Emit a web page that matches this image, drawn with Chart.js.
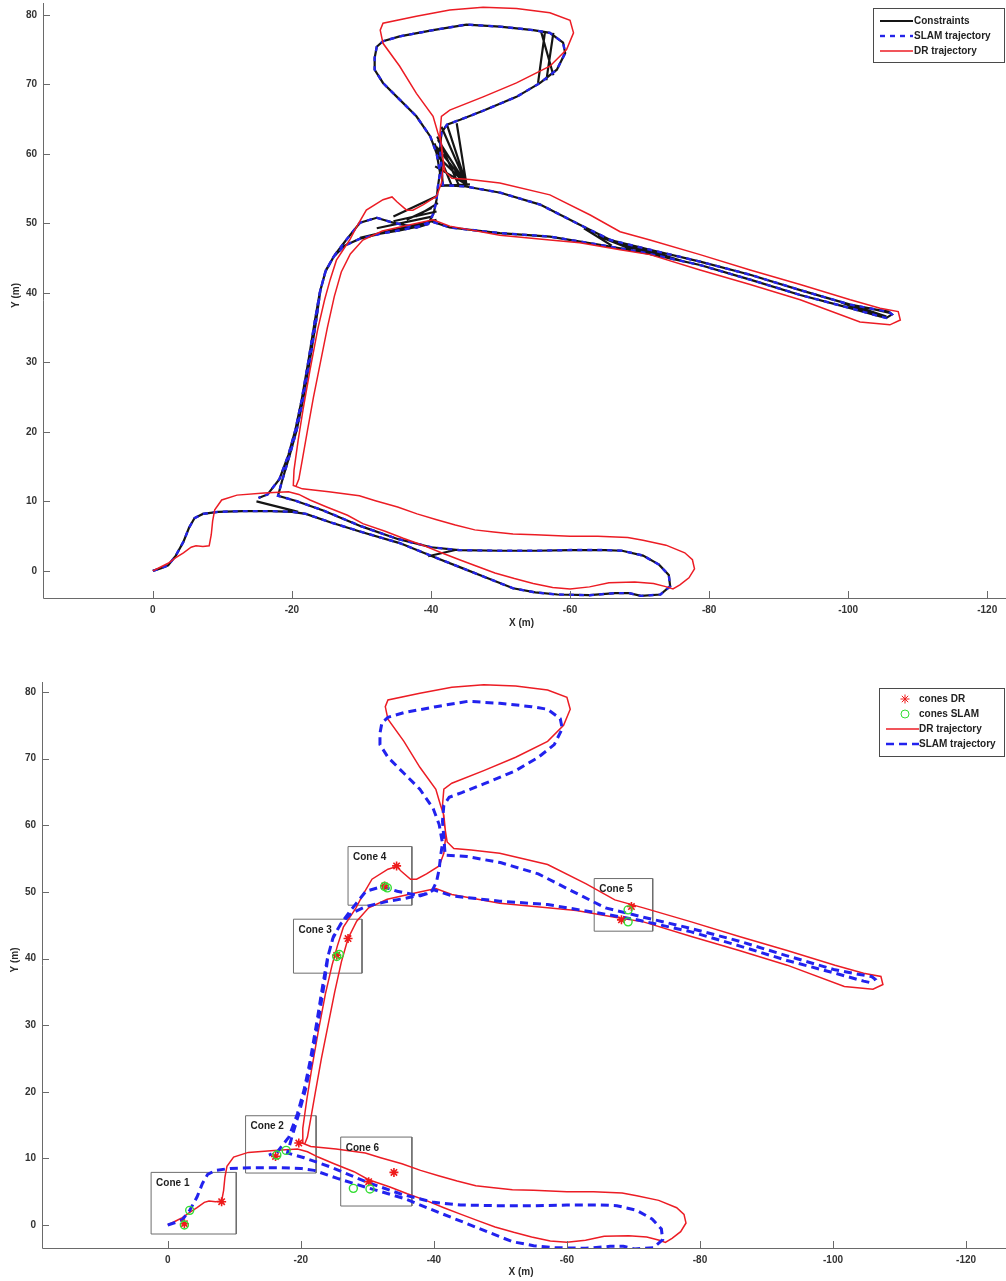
<!DOCTYPE html>
<html>
<head>
<meta charset="utf-8">
<script src="https://cdn.jsdelivr.net/npm/chart.js@4.4.1/dist/chart.umd.min.js"></script>
<style>
  body { margin: 0; background: #fff; }
  #page { position: relative; width: 1006px; height: 1281px; }
  .panel { position: absolute; left: 0; width: 1006px; }
</style>
</head>
<body>
<div id="page">
  <div class="panel" style="top:0;height:640px"><canvas id="graphLinks"></canvas></div>
  <div class="panel" style="top:640px;height:641px"><canvas id="graphCones"></canvas></div>
</div>
<script>
// SLAM estimate of the vehicle path (m)
var slamX = [0, -1.2, -2.2, -3.3, -4.4, -5.2, -6, -7.2, -9.4, -13,
  -17, -20, -22, -25.5, -30, -35.5, -40.7, -44.5, -48, -51.8,
  -55, -58.2, -62.8, -66.5, -68.5, -70.2, -73, -74.4, -74.2, -72.8,
  -70.5, -67.5, -65, -60, -55, -50, -44, -40, -35.2, -30,
  -24.5, -20.5, -18, -18.6, -19.7, -20.7, -21.6, -22.6, -23.5, -24.1,
  -24.9, -26.2, -27.8, -29.8, -32.2, -34.5, -37.9, -39.6, -40.4, -40.8,
  -41, -41.3, -40.8, -39.9, -37.9, -35.5, -33.1, -31.9, -31.9, -32.2,
  -33.1, -35.5, -40.3, -45.1, -49.9, -54.7, -57.1, -59, -59.3, -58.1,
  -55.7, -52.3, -47.5, -44.2, -42.3, -41.5, -41.3, -41.5, -41.7, -45,
  -50, -55.7, -61.4, -65.8, -71.5, -78.7, -85.9, -93.1, -100.3, -104,
  -105.8, -106.3, -105.5, -104.6, -100.3, -93.1, -85.9, -78.7, -70.1, -64.3,
  -57.1, -49.9, -42.7, -40, -38.4, -35.5, -32.7, -29.8, -27.6, -26,
  -24.8, -24, -23.3, -22.4, -21.4, -20.5, -19.5, -18.2, -16.5, -15.2];
var slamY = [0, 0.4, 0.8, 2.2, 4.2, 6.2, 7.6, 8.2, 8.5, 8.6,
  8.6, 8.5, 8.2, 7, 5.6, 4, 1.9, 0.4, -1, -2.5,
  -3.1, -3.4, -3.5, -3.2, -3.2, -3.6, -3.4, -2.2, -0.6, 0.9,
  2.2, 2.9, 3, 3, 2.9, 2.9, 3, 3.4, 4.6, 6.4,
  8.7, 10.1, 10.8, 13, 16.7, 20.3, 24.6, 30.4, 36.1, 40.4,
  43.3, 45.5, 47.6, 50.1, 50.8, 50.1, 49.4, 49.9, 51.5, 53.4,
  55.3, 57.3, 60.1, 62.5, 65.4, 67.8, 70.2, 72.1, 73.8, 75.4,
  76.2, 76.9, 77.8, 78.6, 78.3, 77.8, 77.4, 76, 74.5, 72.1,
  70.2, 68.2, 66.2, 64.9, 64.2, 63, 60.6, 58.2, 55.5, 55.3,
  54.4, 52.7, 49.8, 47.6, 46.2, 44.5, 42.6, 40.4, 38.3, 37.6,
  37.3, 36.9, 36.4, 36.6, 37.8, 39.7, 41.9, 44, 45.9, 46.9,
  48.1, 48.6, 49.4, 50.3, 49.6, 49, 48.5, 47.8, 46.8, 45.2,
  43, 40, 36, 30.4, 24.6, 20.3, 16.7, 13.2, 11, 10.5];

// dead-reckoning path (m)
var drX = [0, -1.2, -2.2, -3.3, -4.4, -5.5, -6.2, -7.2, -8.1, -8.4,
  -8.6, -8.9, -9.9, -12.1, -16, -19.5, -21, -22.6, -25, -28,
  -30.2, -33.4, -36, -38.8, -41.5, -44.1, -46.5, -49.2, -52, -54.7,
  -57.5, -60, -62.8, -65.6, -69.3, -72, -73.9, -74.8, -75.8, -77.1,
  -77.9, -77.6, -76.5, -73.8, -70.5, -68.3, -64, -60, -55, -51.8,
  -49, -46.3, -43.5, -40.7, -38, -35.2, -32, -29.7, -25.3, -21.5,
  -20.2, -20.3, -20.9, -21.6, -22.6, -23.7, -24.7, -25.5, -26.4, -28.3,
  -29.3, -30.7, -33.1, -34.4, -35.1, -36.5, -37.4, -38.9, -40.8, -41.5,
  -41.8, -41.5, -41, -40.3, -37.9, -35.5, -33.1, -32.7, -33.1, -37.9,
  -42.7, -47.5, -52.3, -57.1, -60, -60.5, -59.5, -57.1, -52.3, -47.5,
  -42.7, -41.5, -41.3, -41.6, -42, -43, -45.6, -49.9, -57.1, -62.9,
  -67.2, -71.5, -78.7, -85.9, -93.1, -100.3, -104.6, -107.2, -107.5, -106,
  -101.7, -93.1, -85.9, -78.7, -71.5, -67.2, -61.4, -57.1, -49.9, -42.7,
  -40.3, -37, -33, -30.2, -28.4, -27.1, -26.1, -25.1, -24.1, -23.1,
  -22.2, -21.5, -21, -20.6];
var drY = [0, 0.6, 1.1, 1.9, 2.6, 3.4, 3.6, 3.5, 3.6, 5.2,
  7.2, 8.8, 10.2, 10.9, 11.2, 11.4, 11, 10.2, 9.2, 8,
  6.8, 5.7, 4.7, 3.7, 2.6, 1.6, 0.7, -0.3, -1.1, -1.8,
  -2.4, -2.6, -2.3, -1.7, -1.6, -1.8, -2.3, -2.6, -2, -1,
  0.3, 1.6, 2.6, 3.7, 4.4, 4.8, 5, 5, 5.2, 5.3,
  5.6, 5.9, 6.6, 7.4, 8.2, 9.2, 10.1, 10.8, 11.4, 11.8,
  12.3, 14.5, 18.8, 23.2, 28.9, 34.7, 39, 41.9, 44.7, 47.6,
  49.5, 51.9, 53.4, 53.8, 53.1, 51.9, 51.9, 52.7, 53.9, 55.8,
  58.5, 61.5, 63, 65.4, 68.7, 72.6, 75.9, 77.8, 78.8, 79.8,
  80.7, 81.1, 80.9, 80.3, 79.2, 77.4, 75, 72.6, 70.2, 68.2,
  66.3, 65.4, 63, 60, 57.5, 56.5, 56.3, 55.8, 54.1, 51.2,
  48.8, 47.6, 45.5, 43.3, 41.2, 39, 37.8, 37.3, 36.1, 35.4,
  35.8, 39, 41.2, 43.3, 45.5, 46.2, 47.2, 47.6, 48.3, 49.6,
  50.5, 49.8, 48.9, 47.6, 45.6, 43, 39.5, 35, 30, 25,
  20, 16, 13.2, 12.2];

// loop-closure links between poses (start / end)
var linkX1 = [-56.4, -57.6, -55.8, -45.1, -45.1, -45.1, -45.1, -45.1, -45.1, -45.1,
  -44, -43, -41.3, -40.8, -40.3, -40.8, -40.1, -41, -34.6, -62,
  -64, -66, -67.5, -70, -65, -99, -101, -103, -39.6, -14.9];
var linkY1 = [77.6, 77.4, 77.7, 55.6, 55.6, 55.6, 55.6, 55.6, 55.6, 55.6,
  55.5, 55.4, 55.4, 50.5, 51, 51.7, 52.2, 52.9, 51, 49.3,
  48.2, 47.4, 47, 46.5, 47.9, 38.6, 38.1, 37.8, 2.1, 10];
var linkX2 = [-55.4, -56.6, -57.6, -41, -40.8, -41, -41.5, -42.3, -43.7, -40.6,
  -40.9, -40.5, -45.6, -29.8, -32.2, -34.6, -36.5, -37.9, -40.8, -66,
  -69, -71, -74, -76, -72, -104.2, -105.5, -106, -43.5, -20.9];
var linkY2 = [70.2, 70.6, 71.3, 62, 61, 59.6, 63.9, 64.2, 64.4, 58.2,
  62.5, 61.5, 55.6, 47.9, 49.3, 50.3, 50.5, 51, 53.9, 46.8,
  46.2, 45.9, 45.2, 44.6, 45.7, 36.7, 36.6, 37.1, 3, 8.5];

// cone sightings, two passes per cone
var coneDrX = [-2.5, -8.1, -16.2, -19.7, -25.4, -27.1, -32.6, -34.4, -69.7, -68.2, -34, -30.2];
var coneDrY = [0.2, 3.5, 10.3, 12.3, 40.5, 43, 50.9, 53.9, 47.8, 45.8, 7.9, 6.5];
var coneSlamX = [-2.5, -3.3, -16.4, -17.8, -25.4, -25.8, -32.6, -33, -69.2, -69.2, -27.9, -30.4];
var coneSlamY = [0, 2.2, 10.5, 11.2, 40.3, 40.6, 50.8, 50.6, 47.3, 45.5, 5.5, 5.4];

// frames around each cone
var coneNames = ['Cone 1', 'Cone 2', 'Cone 3', 'Cone 4', 'Cone 5', 'Cone 6'];
var boxX1 = [2.5, -11.7, -18.9, -27.1, -64.1, -26];
var boxX2 = [-10.3, -22.3, -29.2, -36.7, -72.9, -36.7];
var boxY1 = [7.9, 16.4, 45.9, 56.8, 52, 13.2];
var boxY2 = [-1.35, 7.8, 37.8, 48, 44.1, 2.85];

var xTicks = [0, -20, -40, -60, -80, -100, -120];
var yTicks = [0, 10, 20, 30, 40, 50, 60, 70, 80];

var GAP = {x: NaN, y: NaN};
var FONT = '"Liberation Sans", Arial, sans-serif';

function pts(xs, ys) {
  return xs.map(function (x, i) { return {x: x, y: ys[i]}; });
}

// pose chain followed by the loop-closure links, split by gaps
function linkPoints() {
  var out = pts(slamX, slamY);
  for (var i = 0; i < linkX1.length; i++) {
    out.push(GAP, {x: linkX1[i], y: linkY1[i]}, {x: linkX2[i], y: linkY2[i]});
  }
  return out;
}

function boxPoints() {
  var out = [];
  for (var i = 0; i < boxX1.length; i++) {
    out.push({x: boxX1[i], y: boxY1[i]}, {x: boxX2[i], y: boxY1[i]},
      {x: boxX2[i], y: boxY2[i]}, {x: boxX1[i], y: boxY2[i]},
      {x: boxX1[i], y: boxY1[i]}, GAP);
  }
  return out;
}

// axis lines, inward ticks and axis names
var frame = {
  id: 'frame',
  afterDraw: function (chart, args, o) {
    var ctx = chart.ctx, a = chart.chartArea, sx = chart.scales.x, sy = chart.scales.y;
    ctx.save();
    ctx.strokeStyle = '#6a6a6a';
    ctx.lineWidth = 1;
    ctx.beginPath();
    ctx.moveTo(a.left + 0.5, a.top);
    ctx.lineTo(a.left + 0.5, a.bottom + 0.5);
    ctx.lineTo(a.right, a.bottom + 0.5);
    xTicks.forEach(function (v) {
      var p = Math.round(sx.getPixelForValue(v)) + 0.5;
      ctx.moveTo(p, a.bottom);
      ctx.lineTo(p, a.bottom - 7);
    });
    yTicks.forEach(function (v) {
      var p = Math.round(sy.getPixelForValue(v)) + 0.5;
      ctx.moveTo(a.left, p);
      ctx.lineTo(a.left + 7, p);
    });
    ctx.stroke();
    ctx.fillStyle = '#2b2b2b';
    ctx.font = 'bold 10px ' + FONT;
    ctx.textAlign = 'center';
    ctx.textBaseline = 'middle';
    ctx.fillText('X (m)', (a.left + a.right) / 2 - 3, o.xTitleY);
    ctx.translate(o.yTitleX, (a.top + a.bottom) / 2 - 5);
    ctx.rotate(-Math.PI / 2);
    ctx.fillText('Y (m)', 0, 0);
    ctx.restore();
  }
};

// boxed legend in the upper right corner
var keyBox = {
  id: 'keyBox',
  afterDraw: function (chart, args, o) {
    var ctx = chart.ctx;
    ctx.save();
    ctx.fillStyle = '#fff';
    ctx.fillRect(o.left, o.top, o.width, o.height);
    ctx.strokeStyle = '#4a4a4a';
    ctx.lineWidth = 1;
    ctx.strokeRect(o.left + 0.5, o.top + 0.5, o.width, o.height);
    o.items.forEach(function (idx, i) {
      var ds = chart.data.datasets[idx];
      var y = o.top + o.first + i * o.step;
      if (ds.showLine) {
        ctx.strokeStyle = ds.borderColor;
        ctx.lineWidth = Math.min(ds.borderWidth, 2.6);
        ctx.setLineDash(ds.borderDash || []);
        ctx.beginPath();
        ctx.moveTo(o.left + 7, y);
        ctx.lineTo(o.left + 40, y);
        ctx.stroke();
        ctx.setLineDash([]);
      } else {
        ctx.strokeStyle = ds.pointBorderColor;
        ctx.fillStyle = 'rgba(0,0,0,0)';
        Chart.helpers.drawPoint(ctx, {pointStyle: ds.pointStyle, radius: ds.pointRadius,
          borderWidth: ds.pointBorderWidth, rotation: 0}, o.left + 26, y);
      }
      ctx.fillStyle = '#222';
      ctx.font = 'bold 10px ' + FONT;
      ctx.textAlign = 'left';
      ctx.textBaseline = 'middle';
      ctx.fillText(ds.label, o.left + o.textX, y);
    });
    ctx.restore();
  }
};

// cone names written in the corner of each frame
var coneTags = {
  id: 'coneTags',
  afterDatasetsDraw: function (chart) {
    if (!chart.options.plugins.coneTags.show) return;
    var ctx = chart.ctx, sx = chart.scales.x, sy = chart.scales.y;
    ctx.save();
    ctx.fillStyle = '#1e1e1e';
    ctx.font = 'bold 10px ' + FONT;
    ctx.textAlign = 'left';
    ctx.textBaseline = 'middle';
    coneNames.forEach(function (name, i) {
      ctx.fillText(name, sx.getPixelForValue(boxX1[i]) + 5, sy.getPixelForValue(boxY1[i]) + 11);
    });
    ctx.restore();
  }
};

function axes(xLo, xHi, yLo, yHi, yWidth, xHeight) {
  var tickFont = {family: FONT, size: 10, weight: 'bold'};
  return {
    x: {
      type: 'linear', reverse: true, min: xLo, max: xHi,
      afterBuildTicks: function (s) { s.ticks = xTicks.map(function (v) { return {value: v}; }); },
      afterFit: function (s) { s.height = xHeight; s.paddingLeft = 0; s.paddingRight = 0; },
      grid: {drawOnChartArea: false, drawTicks: false},
      border: {display: false},
      ticks: {padding: 6, color: '#333', font: tickFont, maxRotation: 0, autoSkip: false}
    },
    y: {
      type: 'linear', min: yLo, max: yHi,
      afterBuildTicks: function (s) { s.ticks = yTicks.map(function (v) { return {value: v}; }); },
      afterFit: function (s) { s.width = yWidth; s.paddingTop = 0; s.paddingBottom = 0; },
      grid: {drawOnChartArea: false, drawTicks: false},
      border: {display: false},
      ticks: {padding: 6, color: '#333', font: tickFont, autoSkip: false}
    }
  };
}

function line(label, data, color, width, dash, order) {
  return {label: label, data: data, showLine: true, borderColor: color, borderWidth: width,
    borderDash: dash, pointRadius: 0, fill: false, order: order};
}

new Chart(document.getElementById('graphLinks'), {
  type: 'scatter',
  data: {
    datasets: [
      line('Constraints', linkPoints(), '#151515', 2.2, [], 2),
      line('SLAM trajectory', pts(slamX, slamY), '#2424e8', 2.4, [5, 5], 1),
      line('DR trajectory', pts(drX, drY), '#ec1c24', 1.5, [], 0)
    ]
  },
  options: {
    animation: false, responsive: true, maintainAspectRatio: false, events: [],
    layout: {autoPadding: false, padding: {top: 3, left: 0, right: 0, bottom: 0}},
    scales: axes(-122.7, 15.8, -3.9, 81.7, 43, 42),
    plugins: {
      legend: {display: false}, tooltip: {enabled: false},
      frame: {xTitleY: 623, yTitleX: 16},
      keyBox: {left: 873, top: 8, width: 131, height: 54, first: 13, step: 15, textX: 41, items: [0, 1, 2]},
      coneTags: {show: false}
    }
  },
  plugins: [frame, keyBox, coneTags]
});

new Chart(document.getElementById('graphCones'), {
  type: 'scatter',
  data: {
    datasets: [
      {label: 'cones DR', data: pts(coneDrX, coneDrY), pointStyle: 'star', pointRadius: 4.5,
        pointBorderColor: '#ee1a1a', pointBorderWidth: 1.6, pointBackgroundColor: '#ee1a1a', order: 1},
      {label: 'cones SLAM', data: pts(coneSlamX, coneSlamY), pointStyle: 'circle', pointRadius: 4,
        pointBorderColor: '#33dd33', pointBorderWidth: 1.4, pointBackgroundColor: 'rgba(0,0,0,0)', order: 0},
      line('DR trajectory', pts(drX, drY), '#ec1c24', 1.5, [], 3),
      line('SLAM trajectory', pts(slamX, slamY), '#2222ee', 3, [8, 5], 2),
      line('frames', boxPoints(), '#6d6d6d', 1, [], 4)
    ]
  },
  options: {
    animation: false, responsive: true, maintainAspectRatio: false, events: [],
    layout: {autoPadding: false, padding: {top: 42, left: 0, right: 0, bottom: 0}},
    scales: axes(-126, 18.9, -3.45, 81.5, 42, 33),
    plugins: {
      legend: {display: false}, tooltip: {enabled: false},
      frame: {xTitleY: 632, yTitleX: 15},
      keyBox: {left: 879, top: 48, width: 125, height: 68, first: 11, step: 15, textX: 40, items: [0, 1, 2, 3]},
      coneTags: {show: true}
    }
  },
  plugins: [frame, keyBox, coneTags]
});
</script>
</body>
</html>
